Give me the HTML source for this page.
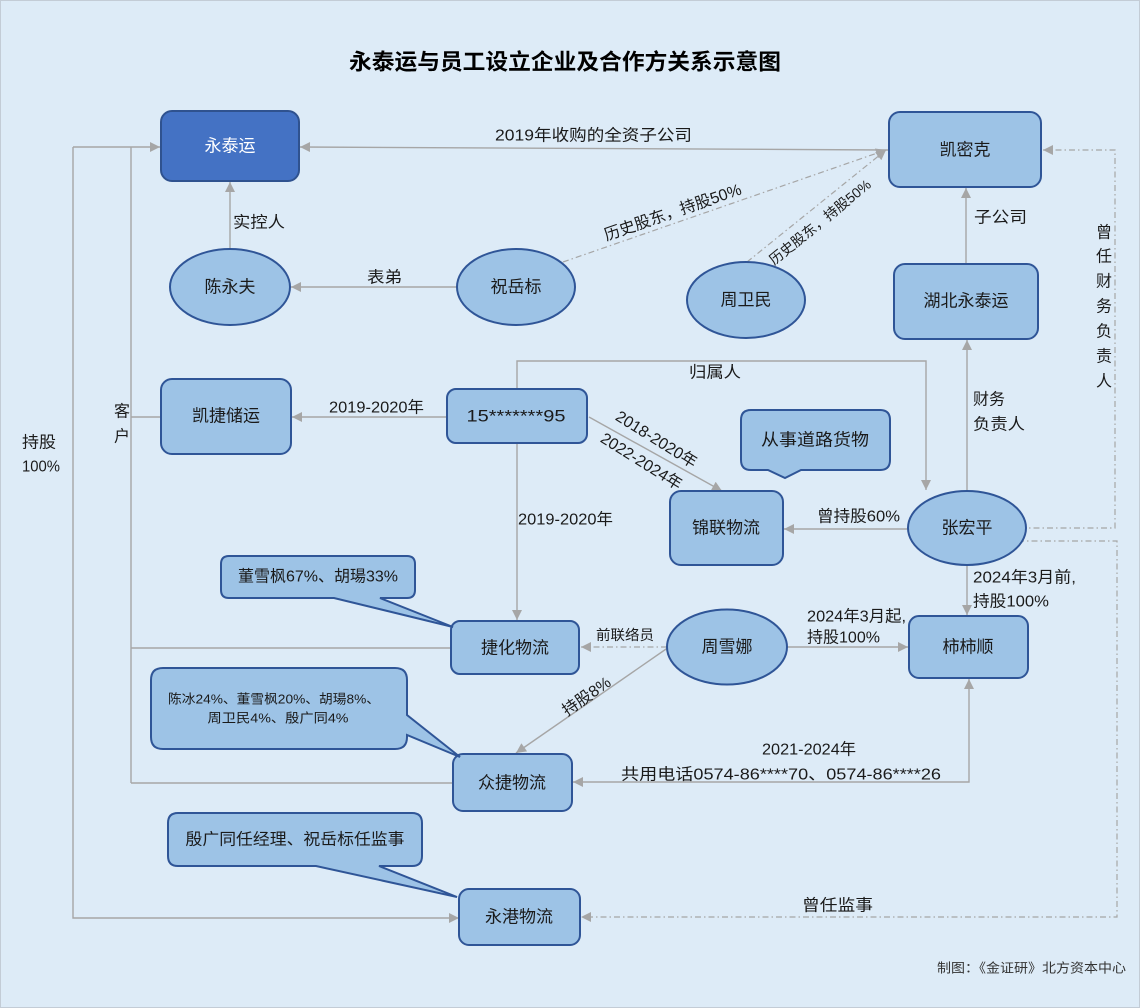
<!DOCTYPE html>
<html><head><meta charset="utf-8"><style>
html,body{margin:0;padding:0;background:#ddebf7;}
svg{display:block;}
text{font-family:"Liberation Sans","Noto Sans CJK SC",sans-serif;fill:#1a1a1a;}
.n{font-size:17px;text-anchor:middle;dominant-baseline:central;}
.l{font-size:16px;dominant-baseline:central;}
.ln{fill:none;stroke:#a6a6a6;stroke-width:1.4;}
.dd{fill:none;stroke:#a6a6a6;stroke-width:1.2;stroke-dasharray:6 3 1.5 3;}
.nd{fill:#9dc3e6;stroke:#2f5597;stroke-width:2;}
</style></head><body>
<svg width="1140" height="1008" viewBox="0 0 1140 1008" xmlns="http://www.w3.org/2000/svg">
<defs>
<marker id="a" viewBox="0 0 10 10" refX="10" refY="5" markerWidth="11" markerHeight="10" markerUnits="userSpaceOnUse" orient="auto-start-reverse"><path d="M0,0 L10,5 L0,10 z" fill="#a6a6a6"/></marker>
</defs>
<rect x="0.5" y="0.5" width="1139" height="1007" fill="#ddebf7" stroke="#c3ccd6" stroke-width="1"/>

<!-- Title -->
<text x="565" y="62" font-size="22" font-weight="bold" text-anchor="middle" dominant-baseline="central" textLength="432" lengthAdjust="spacingAndGlyphs" style="fill:#000">永泰运与员工设立企业及合作方关系示意图</text>

<!-- Connectors -->
<path class="ln" d="M131,783 V147"/>
<path class="ln" d="M73,147 H160" marker-end="url(#a)"/>
<path class="ln" d="M73,147 V918 H459" marker-end="url(#a)"/>
<path class="ln" d="M131,417 H161"/>
<path class="ln" d="M131,648 H451"/>
<path class="ln" d="M131,783 H453"/>
<path class="ln" d="M888,150 L300,147" marker-end="url(#a)"/>
<path class="ln" d="M230,249 V182" marker-end="url(#a)"/>
<path class="ln" d="M457,287 H291" marker-end="url(#a)"/>
<path class="dd" d="M563,262 L886,150" marker-end="url(#a)"/>
<path class="dd" d="M747,262 L886,150" marker-end="url(#a)"/>
<path class="ln" d="M966,263 V188" marker-end="url(#a)"/>
<path class="ln" d="M967,491 V340" marker-end="url(#a)"/>
<path class="ln" d="M517,389 V361 H926 V490" marker-end="url(#a)"/>
<path class="ln" d="M447,417 H292" marker-end="url(#a)"/>
<path class="ln" d="M517,443 V620" marker-end="url(#a)"/>
<path class="ln" d="M589,417 L722,491" marker-end="url(#a)"/>
<path class="ln" d="M908,529 H784" marker-end="url(#a)"/>
<path class="ln" d="M967,565 V615" marker-end="url(#a)"/>
<path class="ln" d="M787,647 H908" marker-end="url(#a)"/>
<path class="dd" d="M667,647 H581" marker-end="url(#a)"/>
<path class="ln" d="M669,647 L516,753" marker-end="url(#a)"/>
<path class="ln" d="M969,679 V782 H573" marker-start="url(#a)" marker-end="url(#a)"/>
<path class="dd" d="M1020,528 H1115 V150 H1043" marker-end="url(#a)"/>
<path class="dd" d="M1018,541 H1117 V917 H581" marker-end="url(#a)"/>

<!-- Nodes -->
<rect x="161" y="111" width="138" height="70" rx="11" fill="#4472c4" stroke="#2f528f" stroke-width="2"/>
<text class="n" x="230" y="146" style="fill:#fff">永泰运</text>

<rect class="nd" x="889" y="112" width="152" height="75" rx="11"/>
<text class="n" x="965" y="150">凯密克</text>

<ellipse class="nd" cx="230" cy="287" rx="60" ry="38"/>
<text class="n" x="230" y="287">陈永夫</text>

<ellipse class="nd" cx="516" cy="287" rx="59" ry="38"/>
<text class="n" x="516" y="287">祝岳标</text>

<ellipse class="nd" cx="746" cy="300" rx="59" ry="38"/>
<text class="n" x="746" y="300">周卫民</text>

<rect class="nd" x="894" y="264" width="144" height="75" rx="11"/>
<text class="n" x="966" y="301">湖北永泰运</text>

<rect class="nd" x="161" y="379" width="130" height="75" rx="11"/>
<text class="n" x="226" y="416">凯捷储运</text>

<rect class="nd" x="447" y="389" width="140" height="54" rx="9"/>
<text class="n" x="516" y="416" textLength="99" lengthAdjust="spacingAndGlyphs">15*******95</text>

<rect class="nd" x="670" y="491" width="113" height="74" rx="11"/>
<text class="n" x="726" y="528">锦联物流</text>

<ellipse class="nd" cx="967" cy="528" rx="59" ry="37"/>
<text class="n" x="967" y="528">张宏平</text>

<rect class="nd" x="451" y="621" width="128" height="53" rx="9"/>
<text class="n" x="515" y="648">捷化物流</text>

<ellipse class="nd" cx="727" cy="647" rx="60" ry="37.5"/>
<text class="n" x="727" y="647">周雪娜</text>

<rect class="nd" x="909" y="616" width="119" height="62" rx="10"/>
<text class="n" x="968" y="647">柿柿顺</text>

<rect class="nd" x="453" y="754" width="119" height="57" rx="10"/>
<text class="n" x="512" y="783">众捷物流</text>

<rect class="nd" x="459" y="889" width="121" height="56" rx="10"/>
<text class="n" x="519" y="917">永港物流</text>

<!-- Callouts -->
<path class="nd" d="M229,556 H407 Q415,556 415,564 V590 Q415,598 407,598 H380 L453,627 L334,598 H229 Q221,598 221,590 V564 Q221,556 229,556 Z"/>
<text class="n" x="318" y="577" style="font-size:16px" textLength="160" lengthAdjust="spacingAndGlyphs">董雪枫67%、胡瑒33%</text>

<path class="nd" d="M163,668 H395 Q407,668 407,680 V715 L460,757 L407,735 V737 Q407,749 395,749 H163 Q151,749 151,737 V680 Q151,668 163,668 Z"/>
<text class="n" x="274" y="699" style="font-size:13px" textLength="212" lengthAdjust="spacingAndGlyphs">陈冰24%、董雪枫20%、胡瑒8%、</text>
<text class="n" x="278" y="718" style="font-size:13px" textLength="141" lengthAdjust="spacingAndGlyphs">周卫民4%、殷广同4%</text>

<path class="nd" d="M178,813 H412 Q422,813 422,823 V856 Q422,866 412,866 H379 L457,897 L316,866 H178 Q168,866 168,856 V823 Q168,813 178,813 Z"/>
<text class="n" x="295" y="840" style="font-size:16px" textLength="219" lengthAdjust="spacingAndGlyphs">殷广同任经理、祝岳标任监事</text>

<path class="nd" d="M751,410 H880 Q890,410 890,420 V460 Q890,470 880,470 H801 L785,478 L768,470 H751 Q741,470 741,460 V420 Q741,410 751,410 Z"/>
<text class="n" x="815" y="440" textLength="108" lengthAdjust="spacingAndGlyphs">从事道路货物</text>

<!-- Edge labels -->
<text class="l" x="495" y="136" textLength="197" lengthAdjust="spacingAndGlyphs">2019年收购的全资子公司</text>
<text class="l" x="233" y="223" textLength="52" lengthAdjust="spacingAndGlyphs">实控人</text>
<text class="l" x="367" y="278" textLength="35" lengthAdjust="spacingAndGlyphs">表弟</text>
<text class="l" x="974" y="218" textLength="53" lengthAdjust="spacingAndGlyphs">子公司</text>
<text class="l" text-anchor="middle" transform="translate(673,213) rotate(-19)">历史股东，持股50%</text>
<text class="l" text-anchor="middle" style="font-size:14px" transform="translate(820,222) rotate(-39)">历史股东，持股50%</text>
<text class="l" x="689" y="373" textLength="52" lengthAdjust="spacingAndGlyphs">归属人</text>
<text class="l" x="973" y="400">财务</text>
<text class="l" x="973" y="425" textLength="52" lengthAdjust="spacingAndGlyphs">负责人</text>
<text class="l" x="329" y="408" textLength="95" lengthAdjust="spacingAndGlyphs">2019-2020年</text>
<text class="l" x="518" y="520" textLength="95" lengthAdjust="spacingAndGlyphs">2019-2020年</text>
<text class="l" text-anchor="middle" transform="translate(656,440) rotate(32)">2018-2020年</text>
<text class="l" text-anchor="middle" transform="translate(641,462) rotate(32)">2022-2024年</text>
<text class="l" x="817" y="517" textLength="83" lengthAdjust="spacingAndGlyphs">曾持股60%</text>
<text class="l" x="973" y="578" textLength="103" lengthAdjust="spacingAndGlyphs">2024年3月前,</text>
<text class="l" x="973" y="602" textLength="76" lengthAdjust="spacingAndGlyphs">持股100%</text>
<text class="l" x="807" y="617" textLength="99" lengthAdjust="spacingAndGlyphs">2024年3月起,</text>
<text class="l" x="807" y="638" textLength="73" lengthAdjust="spacingAndGlyphs">持股100%</text>
<text class="l" x="596" y="635" style="font-size:14px" textLength="58" lengthAdjust="spacingAndGlyphs">前联络员</text>
<text class="l" text-anchor="middle" transform="translate(587,697) rotate(-35)">持股8%</text>
<text class="l" x="762" y="750" textLength="94" lengthAdjust="spacingAndGlyphs">2021-2024年</text>
<text class="l" x="621" y="775" textLength="320" lengthAdjust="spacingAndGlyphs">共用电话0574-86****70、0574-86****26</text>
<text class="l" x="802" y="906" textLength="71" lengthAdjust="spacingAndGlyphs">曾任监事</text>
<text class="l" x="22" y="443" textLength="34" lengthAdjust="spacingAndGlyphs">持股</text>
<text class="l" x="22" y="467" textLength="38" lengthAdjust="spacingAndGlyphs">100%</text>
<text class="l" x="114" y="412">客</text>
<text class="l" x="114" y="437">户</text>
<g class="l" style="font-size:17px">
<text class="l" x="1096" y="233">曾</text>
<text class="l" x="1096" y="257">任</text>
<text class="l" x="1096" y="282">财</text>
<text class="l" x="1096" y="307">务</text>
<text class="l" x="1096" y="332">负</text>
<text class="l" x="1096" y="357">责</text>
<text class="l" x="1096" y="382">人</text>
</g>
<text x="937" y="968" font-size="13" dominant-baseline="central" textLength="189" lengthAdjust="spacingAndGlyphs" style="fill:#333">制图：《金证研》北方资本中心</text>
</svg>
</body></html>
